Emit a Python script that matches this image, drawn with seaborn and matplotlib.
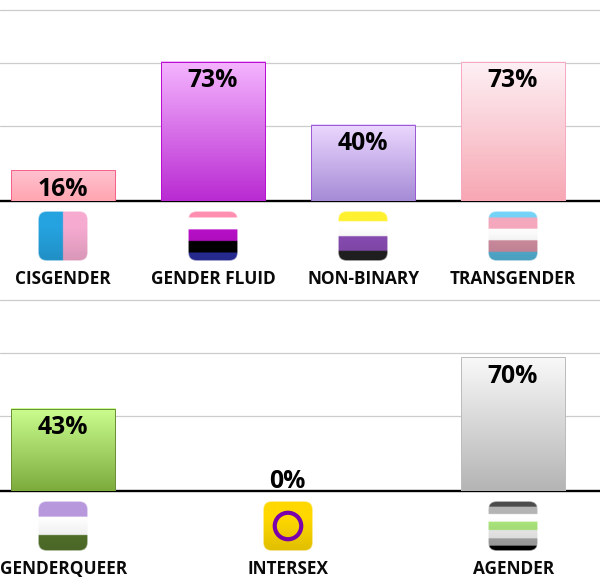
import numpy as np
import pandas as pd
import seaborn as sns
import matplotlib
matplotlib.use("Agg")
import matplotlib.pyplot as plt
from matplotlib.colors import to_rgb
from matplotlib.patches import FancyBboxPatch, Circle

# ---- data ----
top_categories = ["CISGENDER", "GENDER FLUID", "NON-BINARY", "TRANSGENDER"]
top_values = [16, 73, 40, 73]
bottom_categories = ["GENDERQUEER", "INTERSEX", "AGENDER"]
bottom_values = [43, 0, 70]
grid_values = [39.3, 72.2, 100]

bar_top_colors = {"CISGENDER": "#ffc2d0", "GENDER FLUID": "#f5b6ff", "NON-BINARY": "#ecd8ff",
                  "TRANSGENDER": "#fdf1f5", "GENDERQUEER": "#cbfd8f", "INTERSEX": "#ffffff",
                  "AGENDER": "#f9f9f9"}
bar_bottom_colors = {"CISGENDER": "#ffa5b0", "GENDER FLUID": "#b92ad2", "NON-BINARY": "#a58bd6",
                     "TRANSGENDER": "#f7a7b3", "GENDERQUEER": "#7cab3c", "INTERSEX": "#ffffff",
                     "AGENDER": "#b4b4b4"}
bar_edge_colors = {"CISGENDER": "#f5638a", "GENDER FLUID": "#b80fd0", "NON-BINARY": "#9a5ad2",
                   "TRANSGENDER": "#f6abc2", "GENDERQUEER": "#6c8f3b", "INTERSEX": "none",
                   "AGENDER": "#bcbcbc"}

# flag stripes: (colour, share of icon height)
flag_stripes = {
    "GENDER FLUID": [("#ff8fb0", .147), ("#ffffff", .233), ("#b80fc8", .227), ("#000000", .226), ("#2b2f9e", .167)],
    "NON-BINARY": [("#fff130", .22), ("#ffffff", .293), ("#8a4db5", .287), ("#222222", .20)],
    "TRANSGENDER": [("#74d3f7", .147), ("#f4a8bd", .22), ("#ffffff", .227), ("#d28fa2", .226), ("#55b4d8", .18)],
    "GENDERQUEER": [("#b898dc", .313), ("#ffffff", .367), ("#55742c", .32)],
    "AGENDER": [("#4c4c4c", .113), ("#b4b4b4", .147), ("#ffffff", .153), ("#abe67c", .167),
                ("#eeeeee", .167), ("#a8a8a8", .147), ("#000000", .106)],
    "INTERSEX": [("#ffd800", 1.0)],
}
cis_columns = ["#25a3e0", "#f6abd0"]
ring_color = "#7a00ab"

W, H = 600, 580
PX_PER_PCT = 1.91

sns.set_theme(style="white")
plt.rcParams["font.family"] = ["Open Sans", "DejaVu Sans"]
fig = plt.figure(figsize=(W / 100, H / 100), dpi=100)
fig.patch.set_facecolor("white")


def gradient_image(c1, c2, n=200):
    t = np.linspace(0, 1, n)[:, None, None]
    return (1 - t) * np.array(to_rgb(c1))[None, None, :] + t * np.array(to_rgb(c2))[None, None, :]


def draw_panel(cats, vals, base_px, spacing):
    ax = fig.add_axes([0, 1 - base_px / H, 1, 192 / H])
    df = pd.DataFrame({"cat": cats, "val": vals})
    sns.barplot(data=df, x="cat", y="val", order=cats, ax=ax, width=104.5 / spacing,
                color="white", saturation=1, zorder=3)
    xlim = (-63.2 / spacing, (W - 63.2) / spacing)
    ylim = (0, 192 / PX_PER_PCT)
    for patch, c, v in zip(ax.patches, cats, vals):
        patch.set_facecolor("none")
        patch.set_edgecolor(bar_edge_colors[c])
        patch.set_linewidth(0.72)
        patch.set_zorder(4)
        if v > 0:
            x0 = patch.get_x()
            ax.imshow(gradient_image(bar_top_colors[c], bar_bottom_colors[c]),
                      extent=(x0, x0 + patch.get_width(), 0, v), aspect="auto", zorder=3,
                      interpolation="bilinear")
    for i, (c, v) in enumerate(zip(cats, vals)):
        off = -19 if v > 0 else 9.5
        ax.annotate(f"{v}%", xy=(i, v), xytext=(-0.4, off * 0.72), textcoords="offset points",
                    ha="center", va="center", fontsize=17.8, fontweight="bold", color="black", zorder=6)
    ax.set_xlim(xlim)
    ax.set_ylim(ylim)
    ax.set_yticks(grid_values)
    ax.set_yticklabels([])
    ax.tick_params(axis="y", length=0)
    ax.set_axisbelow(True)
    ax.grid(axis="y", color="#cccccc", linewidth=0.9, visible=True)
    ax.grid(axis="x", visible=False)
    ax.patch.set_alpha(0)
    for s in ("top", "left", "right"):
        ax.spines[s].set_visible(False)
    ax.spines["bottom"].set_color("black")
    ax.spines["bottom"].set_linewidth(1.7)
    ax.set_xlabel("")
    ax.set_ylabel("")
    ax.set_xticks(range(len(cats)))
    ax.set_xticklabels(cats, fontsize=12.4, fontweight="bold", color="#0a0a0a")
    ax.tick_params(axis="x", length=0, pad=50)
    for i, c in enumerate(cats):
        draw_icon(c, 63.0 + spacing * i, base_px + 35)


def draw_icon(cat, cx_px, cy_px):
    s = 50
    ia = fig.add_axes([(cx_px - s / 2) / W, 1 - (cy_px + s / 2) / H, s / W, s / H])
    ia.set_xlim(0, 1)
    ia.set_ylim(1, 0)
    ia.axis("off")
    n = 150
    img = np.ones((n, n, 3))
    if cat == "CISGENDER":
        img[:, :n // 2] = to_rgb(cis_columns[0])
        img[:, n // 2:] = to_rgb(cis_columns[1])
    else:
        pos = 0
        for col, share in flag_stripes[cat]:
            end = int(round((pos + share) * n))
            img[int(round(pos * n)):end] = to_rgb(col)
            pos += share
    # glossy shading, darker at the bottom of the icon
    shade = np.concatenate([np.ones(n // 3), np.linspace(1.0, 0.88, n - n // 3)])[:, None, None]
    img = img * shade
    im = ia.imshow(img, extent=(0, 1, 1, 0), aspect="auto", interpolation="bilinear", zorder=1)
    clip = FancyBboxPatch((0.005, 0.005), 0.99, 0.99, boxstyle="round,pad=0,rounding_size=0.17",
                          transform=ia.transData, facecolor="none", edgecolor="#ffffff",
                          linewidth=1.0, alpha=0.45, zorder=3, clip_on=False)
    ia.add_patch(clip)
    im.set_clip_path(clip)
    if cat == "INTERSEX":
        ia.add_patch(Circle((0.5, 0.5), 0.265, facecolor="none", edgecolor=ring_color,
                            linewidth=3.0, zorder=2))


draw_panel(top_categories, top_values, 201, 150)
draw_panel(bottom_categories, bottom_values, 491, 225)
fig.savefig("out.png", dpi=100)
